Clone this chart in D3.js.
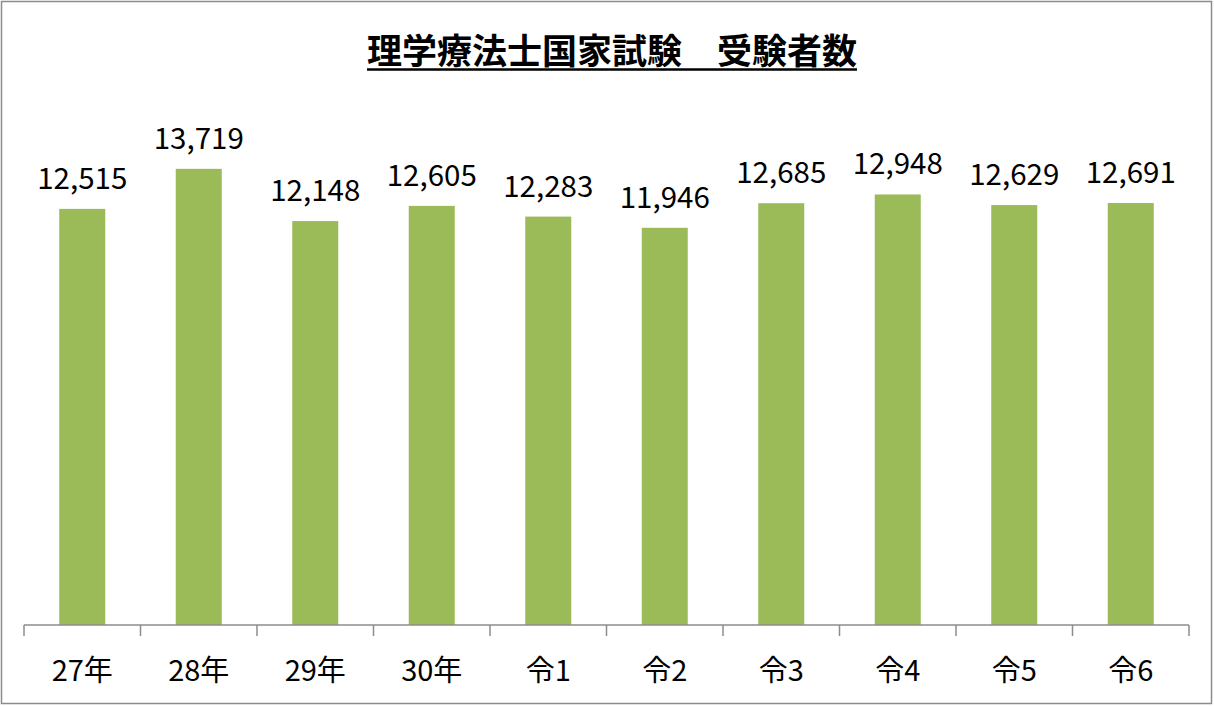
<!DOCTYPE html>
<html>
<head>
<meta charset="utf-8">
<script src="https://cdn.jsdelivr.net/npm/d3@7"></script>
<style>
  body { margin: 0; background: #fff; }
  svg { display: block; font-family: "Noto Sans CJK JP", "Noto Sans", sans-serif; }
</style>
</head>
<body>
<svg id="chart" width="1214" height="706"></svg>
<script>
// 理学療法士国家試験 受験者数

const title = "理学療法士国家試験　受験者数";
const years = ["27年", "28年", "29年", "30年", "令1", "令2", "令3", "令4", "令5", "令6"];
const examinees = [12515, 13719, 12148, 12605, 12283, 11946, 12685, 12948, 12629, 12691];

const svg = d3.select("#chart");
const width = +svg.attr("width");
const height = +svg.attr("height");

const margin = { top: 93, right: 25, bottom: 81, left: 24 };

// outer frame
svg.append("rect")
    .attr("x", 1.5)
    .attr("y", 1.5)
    .attr("width", width - 4)
    .attr("height", height - 4)
    .attr("fill", "#fff")
    .attr("stroke", "#8c8c8c")
    .attr("stroke-width", 1.5);

const x = d3.scaleBand()
    .domain(years)
    .range([margin.left, width - margin.right])
    .paddingInner(0.605)
    .paddingOuter(0.3025);

const xTicks = d3.scaleBand()
    .domain(years)
    .range([margin.left, width - margin.right]);

const y = d3.scaleLinear()
    .domain([0, 16000])
    .range([height - margin.bottom, margin.top]);

// title
const titleText = svg.append("text")
    .attr("x", 612)
    .attr("y", 64)
    .attr("text-anchor", "middle")
    .attr("font-size", 35)
    .attr("font-weight", "bold")
    .attr("fill", "#000")
    .text(title);

const tb = titleText.node().getBBox();
svg.append("line")
    .attr("x1", tb.x)
    .attr("x2", tb.x + tb.width)
    .attr("y1", 69.5)
    .attr("y2", 69.5)
    .attr("stroke", "#000")
    .attr("stroke-width", 2.5);

// bars
svg.append("g")
    .selectAll("rect")
    .data(examinees)
    .join("rect")
    .attr("x", (d, i) => x(years[i]))
    .attr("y", (d) => y(d))
    .attr("width", x.bandwidth())
    .attr("height", (d) => y(0) - y(d))
    .attr("fill", "#9bbb59");

// value labels
svg.append("g")
    .selectAll("text")
    .data(examinees)
    .join("text")
    .attr("x", (d, i) => x(years[i]) + x.bandwidth() / 2)
    .attr("y", (d) => y(d) - 20)
    .attr("text-anchor", "middle")
    .attr("font-size", 29.5)
    .attr("fill", "#000")
    .text((d) => d3.format(",")(d));

// x axis
const axis = svg.append("g")
    .attr("transform", `translate(0,${y(0)})`);

axis.append("line")
    .attr("x1", margin.left)
    .attr("x2", width - margin.right)
    .attr("stroke", "#8c8c8c")
    .attr("stroke-width", 1.5);

const tickPos = years.map((d) => xTicks(d)).concat([width - margin.right]);
axis.selectAll("line.tick")
    .data(tickPos)
    .join("line")
    .attr("class", "tick")
    .attr("x1", (d) => d)
    .attr("x2", (d) => d)
    .attr("y1", 0)
    .attr("y2", 11)
    .attr("stroke", "#8c8c8c")
    .attr("stroke-width", 1.5);

axis.selectAll("text")
    .data(years)
    .join("text")
    .attr("x", (d) => xTicks(d) + xTicks.bandwidth() / 2)
    .attr("y", 56)
    .attr("text-anchor", "middle")
    .attr("font-size", 29)
    .attr("fill", "#000")
    .text((d) => d);
</script>
</body>
</html>
